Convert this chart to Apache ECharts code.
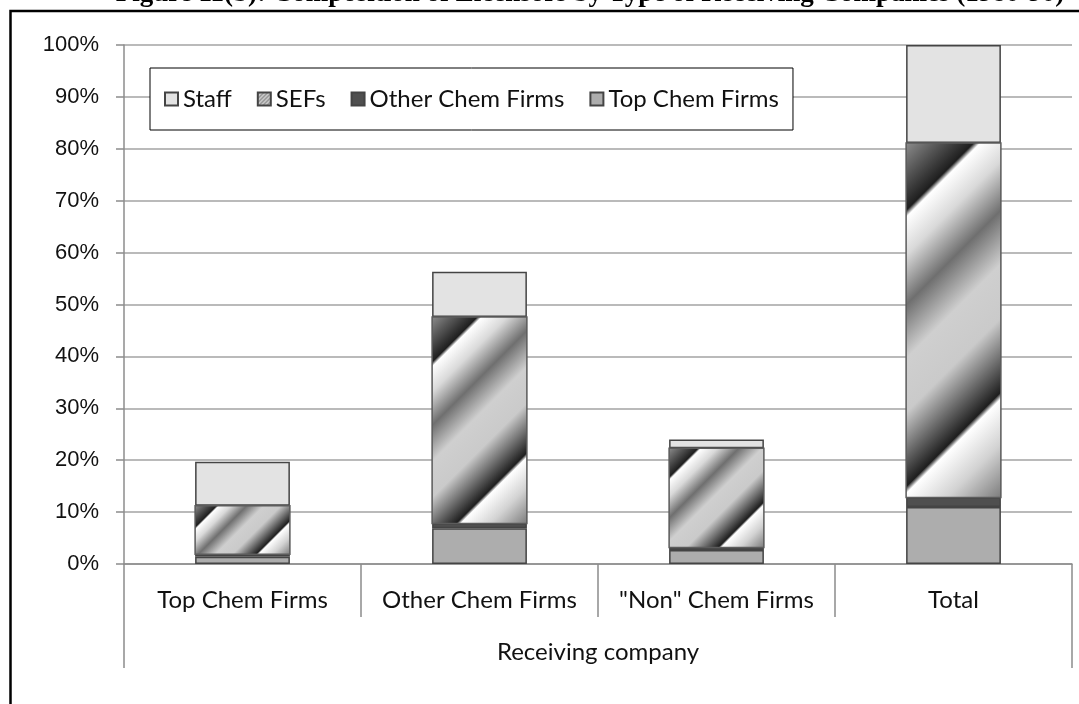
<!DOCTYPE html>
<html>
<head>
<meta charset="utf-8">
<script src="https://cdn.jsdelivr.net/npm/echarts@6/dist/echarts.min.js"></script>
<style>
  html, body { margin: 0; padding: 0; background: #fff; }
  #chart { width: 1079px; height: 704px; }
</style>
</head>
<body>
<div id="chart"></div>
<script>
// Categories of receiving company and the licensor shares (percent of all licensors)
const categories = ['Top Chem Firms', 'Other Chem Firms', '"Non" Chem Firms', 'Total'];
const groupLabel = ['Receiving company'];
const topChem   = [1.4, 6.9, 2.7, 11.0];
const otherChem = [0.5, 0.9, 0.5, 1.8];
const sefs      = [9.3, 39.8, 19.1, 68.3];
const staff     = [8.5, 8.7, 1.7, 18.9];
const seriesNames = ['Staff', 'SEFs', 'Other Chem Firms', 'Top Chem Firms'];

const titleText = 'Figure 11(b): Composition of Licensors by Type of Receiving Companies (1980-90)';

// Metallic diagonal shading used for the SEFs segments
const sefStops = [
  { offset: 0.00, color: '#8c8c8c' },
  { offset: 0.15, color: '#1e1e1e' },
  { offset: 0.165, color: '#ffffff' },
  { offset: 0.25, color: '#d9d9d9' },
  { offset: 0.36, color: '#6f6f6f' },
  { offset: 0.48, color: '#cfcfcf' },
  { offset: 0.60, color: '#cacaca' },
  { offset: 0.765, color: '#1e1e1e' },
  { offset: 0.78, color: '#ffffff' },
  { offset: 0.88, color: '#d2d2d2' },
  { offset: 1.00, color: '#7c7c7c' }
];

// Small hatch tile for the SEFs legend key
const hatch = document.createElement('canvas');
hatch.width = 4; hatch.height = 4;
(function () {
  const g = hatch.getContext('2d');
  g.fillStyle = '#9a9a9a';
  g.fillRect(0, 0, 4, 4);
  g.fillStyle = '#f4f4f4';
  for (let k = 0; k < 4; k++) { g.fillRect(3 - k, k, 1, 1); }
})();

const BAR_RATIO = 0.4;
const sefRanges = categories.map((c, i) => [i, topChem[i] + otherChem[i], topChem[i] + otherChem[i] + sefs[i]]);

function renderSefs(params, api) {
  const i = api.value(0);
  const lo = api.coord([i, api.value(1)]);
  const hi = api.coord([i, api.value(2)]);
  const w = api.size([1, 0])[0] * BAR_RATIO;
  const x = lo[0] - w / 2;
  const y = hi[1];
  const h = lo[1] - hi[1];
  const d = (w + h) / 2;
  return {
    type: 'rect',
    shape: { x: x, y: y, width: w, height: h },
    style: {
      fill: new echarts.graphic.LinearGradient(x, y, x + d, y + d, sefStops, true),
      stroke: '#5c5c5c',
      lineWidth: 1.5
    }
  };
}

const axisGray = '#8c8c8c';
const barBorder = { borderColor: '#444444', borderWidth: 1.5 };
const labelFont = 'Lato';

const chart = echarts.init(document.getElementById('chart'), null, { renderer: 'canvas' });
chart.setOption({
  animation: false,
  backgroundColor: '#ffffff',
  grid: { left: 124, right: 7, top: 45, bottom: 140, containLabel: false },
  graphic: [
    {
      type: 'text', x: 590, y: 8, z: 10,
      style: {
        text: titleText,
        font: 'bold 27px "Liberation Serif"',
        fill: '#000', align: 'center', verticalAlign: 'bottom'
      }
    },
    {
      type: 'rect', z: 10, silent: true,
      shape: { x: 10.5, y: 11, width: 1200, height: 900 },
      style: { fill: 'none', stroke: '#000', lineWidth: 2.5 }
    }
  ],
  legend: {
    data: seriesNames,
    left: 150, top: 68,
    padding: [19, 14, 19, 14],
    itemGap: 25,
    itemWidth: 13, itemHeight: 13,
    icon: 'rect',
    backgroundColor: '#fff',
    borderColor: '#000', borderWidth: 1,
    textStyle: { fontFamily: labelFont, fontSize: 24, color: '#111' }
  },
  xAxis: [
    {
      type: 'category', data: categories, position: 'bottom',
      axisLine: { show: true, lineStyle: { color: axisGray, width: 1.5 } },
      axisTick: { show: true, interval: 0, length: 53, lineStyle: { color: axisGray, width: 1.5 } },
      axisLabel: { interval: 0, margin: 24, fontFamily: labelFont, fontSize: 24, color: '#111' },
      splitLine: { show: false }
    },
    {
      type: 'category', data: groupLabel, position: 'bottom',
      axisLine: { show: false },
      axisTick: { show: true, interval: 0, length: 104, lineStyle: { color: axisGray, width: 1.5 } },
      axisLabel: { interval: 0, margin: 76, fontFamily: labelFont, fontSize: 24, color: '#111' },
      splitLine: { show: false }
    }
  ],
  yAxis: {
    type: 'value', min: 0, max: 100, interval: 10,
    axisLine: { show: true, lineStyle: { color: axisGray, width: 1.5 } },
    axisTick: { show: true, length: 8, lineStyle: { color: axisGray, width: 1.5 } },
    axisLabel: { formatter: '{value}%', margin: 25, fontFamily: 'Liberation Sans', fontSize: 22, color: '#111' },
    splitLine: { show: true, lineStyle: { color: '#a3a3a3', width: 1.5 } }
  },
  series: [
    {
      name: 'Top Chem Firms', type: 'bar', stack: 'total', barWidth: '40%',
      itemStyle: Object.assign({ color: '#adadad' }, barBorder), data: topChem
    },
    {
      name: 'Other Chem Firms', type: 'bar', stack: 'total',
      itemStyle: Object.assign({ color: '#4f4f4f' }, barBorder), data: otherChem
    },
    {
      name: 'SEFs', type: 'bar', stack: 'total',
      itemStyle: Object.assign({ color: { image: hatch, repeat: 'repeat' } }, barBorder), data: sefs
    },
    {
      name: 'Staff', type: 'bar', stack: 'total',
      itemStyle: Object.assign({ color: '#e3e3e3' }, barBorder), data: staff
    },
    {
      name: 'SEFs', type: 'custom', renderItem: renderSefs,
      encode: { x: 0, y: [1, 2] }, data: sefRanges, z: 3
    }
  ]
});
</script>
</body>
</html>
